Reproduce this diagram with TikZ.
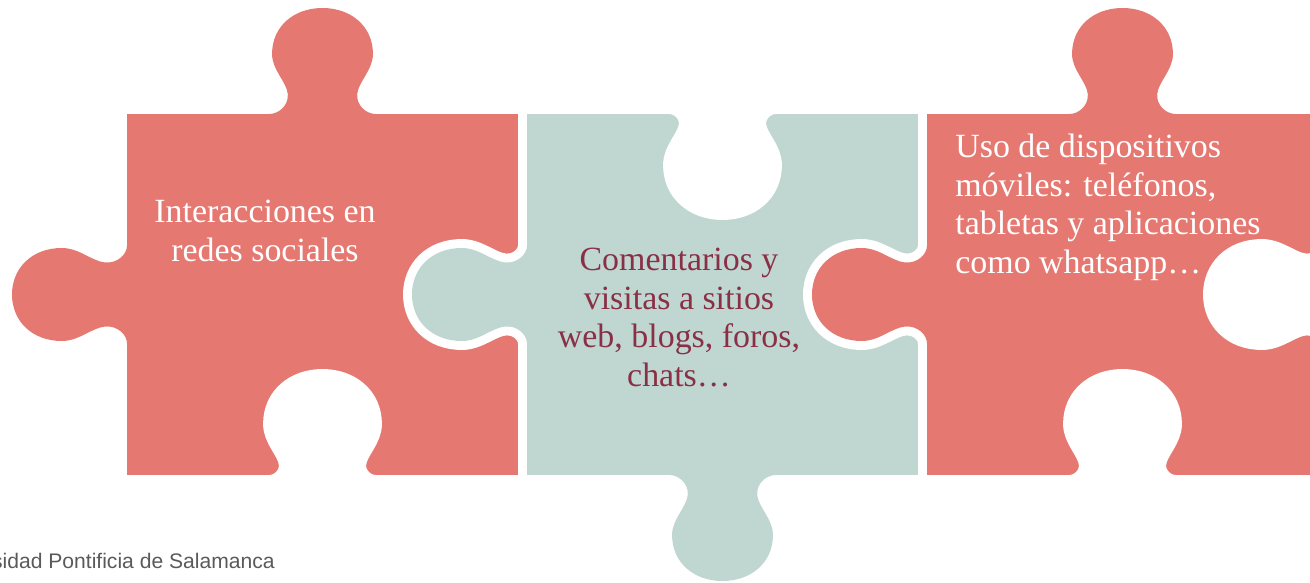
\documentclass[tikz,border=0pt]{standalone}
\usepackage{fontspec}
\setmainfont{Liberation Serif}
\newfontfamily\footfont{Liberation Sans}
\definecolor{piecered}{RGB}{230,120,114}
\definecolor{pieceteal}{RGB}{192,215,209}
\definecolor{wine}{RGB}{137,48,70}
\definecolor{footgray}{RGB}{90,90,90}

\begin{document}
\begin{tikzpicture}[x=0.2mm, y=0.2mm,
    gap/.style={draw=white, line width=10.2pt, line join=round},
    hole/.style={fill=white, draw=white, line width=10.2pt, line join=round},
    tabup/.style={xscale=1.085},
    tabdown/.style={rotate=180, xscale=1.085},
    tableft/.style={rotate=90, yscale=1.085},
    puzzletext/.style={font=\fontsize{19.3}{21.9}\selectfont, align=center, inner sep=0pt},
    pics/knob/.style={code={
      \path [pic actions] (-49,-6) -- (-49,0)
        .. controls (-40,0) and (-31,9) .. (-32,20)
        .. controls (-33,32) and (-46.5,44) .. (-46.5,60)
        .. controls (-46.5,88) and (-26,106) .. (0,106)
        .. controls (26,106) and (46.5,88) .. (46.5,60)
        .. controls (46.5,44) and (33,32) .. (32,20)
        .. controls (31,9) and (40,0) .. (49,0)
        -- (49,-6) -- cycle;
    }}]
    \useasboundingbox (0,0) rectangle (1310,582);
    \clip (0,0) rectangle (1310,582);

    \draw [gap] (127,107) rectangle (518,468);
    \pic [gap, tabup] at (322.5,468) {knob};
    \pic [gap, tableft] at (127,287.5) {knob};
    \fill [piecered] (127,107) rectangle (518,468);
    \pic [fill=piecered, tabup] at (322.5,468) {knob};
    \pic [fill=piecered, tableft] at (127,287.5) {knob};
    \pic [hole, tabup] at (322.5,98) {knob};

    \draw [gap] (527,107) rectangle (918,468);
    \pic [gap, tableft] at (527,287.5) {knob};
    \pic [gap, tabdown] at (722.5,107) {knob};
    \fill [pieceteal] (527,107) rectangle (918,468);
    \pic [fill=pieceteal, tableft] at (527,287.5) {knob};
    \pic [fill=pieceteal, tabdown] at (722.5,107) {knob};
    \pic [hole, tabdown] at (722.5,477) {knob};

    \draw [gap] (927,107) rectangle (1318,468);
    \pic [gap, tabup] at (1122.5,468) {knob};
    \pic [gap, tableft] at (927,287.5) {knob};
    \fill [piecered] (927,107) rectangle (1318,468);
    \pic [fill=piecered, tabup] at (1122.5,468) {knob};
    \pic [fill=piecered, tableft] at (927,287.5) {knob};
    \pic [hole, tabup] at (1122.5,98) {knob};
    \pic [hole, tableft] at (1327,287.5) {knob};

    \node (social) [puzzletext, text=white] at (265,351) {Interacciones en\\redes sociales};
    \node (web) [puzzletext, text=wine] at (679,264.5) {Comentarios y\\visitas a sitios\\web, blogs, foros,\\chats…};
    \node (movil) [puzzletext, text=white, align=left, anchor=north west] at (955,448)
      {Uso de dispositivos\\móviles: teléfonos,\\tabletas y aplicaciones\\como whatsapp…};
    \node (footer) [font=\footfont\fontsize{12}{14}\selectfont, text=footgray, anchor=base east, inner sep=0pt]
      at (275,14) {sidad Pontificia de Salamanca};
\end{tikzpicture}
\end{document}
